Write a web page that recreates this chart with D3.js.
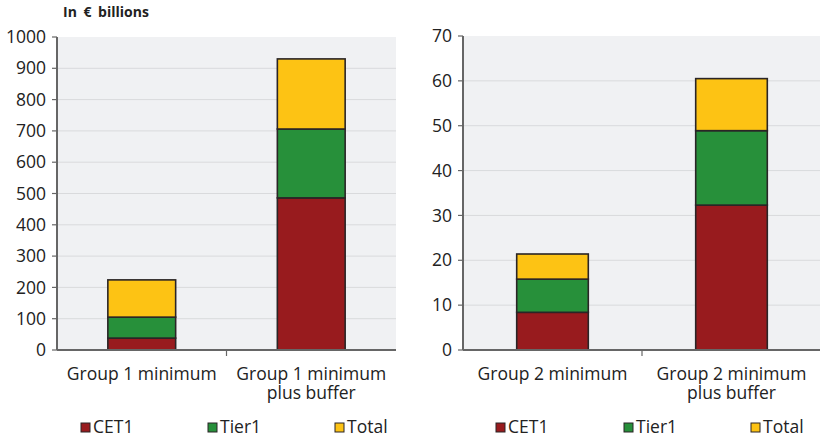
<!DOCTYPE html>
<html>
<head>
<meta charset="utf-8">
<script src="https://cdn.jsdelivr.net/npm/d3@7"></script>
<style>
  body { margin: 0; background: #ffffff; }
  text { font-family: "Open Sans", sans-serif; fill: #222; }
</style>
</head>
<body>
<script>
// data - segment sizes, stacked CET1 -> Tier1 -> Total
const seriesNames = ["CET1", "Tier1", "Total"];
const colors = ["#981b1e", "#27903a", "#fdc314"];

const group1Cats = ["Group 1 minimum", "Group 1 minimum|plus buffer"];
const group1CET1 = [38, 486];
const group1Tier1 = [67, 220];
const group1Total = [119, 224];
const group1Ticks = [0, 100, 200, 300, 400, 500, 600, 700, 800, 900, 1000];

const group2Cats = ["Group 2 minimum", "Group 2 minimum|plus buffer"];
const group2CET1 = [8.4, 32.3];
const group2Tier1 = [7.4, 16.6];
const group2Total = [5.6, 11.6];
const group2Ticks = [0, 10, 20, 30, 40, 50, 60, 70];

const width = 820;
const height = 441;
const svg = d3.select("body").append("svg").attr("width", width).attr("height", height);

svg.append("text").attr("x", 63).attr("y", 17).style("font-size", "14px").style("font-weight", "bold")
  .style("word-spacing", "3px").text("In €  billions");

const drawChart = (opts) => {
  const { left, right, top, bottom, cats, cet1, tier1, total, ticks, legendX } = opts;

  const rows = cats.map((c, i) => ({ cat: c, CET1: cet1[i], Tier1: tier1[i], Total: total[i] }));
  const stacked = d3.stack().keys(seriesNames)(rows);

  const x = d3.scaleBand().domain(cats).range([left, right]).paddingInner(0.6).paddingOuter(0.3);
  const y = d3.scaleLinear().domain([0, d3.max(ticks)]).range([bottom, top]);

  const g = svg.append("g");

  // plot background
  g.append("rect").attr("x", left).attr("y", top).attr("width", right - left).attr("height", bottom - top).attr("fill", "#f0f1f3");

  // gridlines
  g.selectAll(".grid").data(ticks.filter(t => t > 0 && t < d3.max(ticks))).enter().append("line")
    .attr("x1", left).attr("x2", right).attr("y1", d => y(d)).attr("y2", d => y(d))
    .attr("stroke", "#d9dadc").attr("stroke-width", 1);

  // bars
  const layers = g.selectAll(".layer").data(stacked).enter().append("g").attr("fill", (d, i) => colors[i]);
  layers.selectAll("rect").data(d => d).enter().append("rect")
    .attr("x", d => x(d.data.cat))
    .attr("width", x.bandwidth())
    .attr("y", d => y(d[1]))
    .attr("height", d => y(d[0]) - y(d[1]))
    .attr("stroke", "#2a2526").attr("stroke-width", 1.6);

  // y axis
  g.append("line").attr("x1", left).attr("x2", left).attr("y1", top).attr("y2", bottom).attr("stroke", "#666").attr("stroke-width", 2);
  g.selectAll(".ytick").data(ticks).enter().append("line")
    .attr("x1", left - 5).attr("x2", left).attr("y1", d => y(d)).attr("y2", d => y(d)).attr("stroke", "#666").attr("stroke-width", 1.2);
  g.selectAll(".ylabel").data(ticks).enter().append("text")
    .attr("x", left - 11).attr("y", d => y(d)).attr("dy", "0.35em").attr("text-anchor", "end")
    .style("font-size", "17.5px").text(d => d);

  // x axis
  g.append("line").attr("x1", left).attr("x2", right).attr("y1", bottom).attr("y2", bottom).attr("stroke", "#666").attr("stroke-width", 2);
  const mid = (x(cats[0]) + x.bandwidth() + x(cats[1])) / 2;
  g.append("line").attr("x1", mid).attr("x2", mid).attr("y1", bottom).attr("y2", bottom + 6).attr("stroke", "#666").attr("stroke-width", 1.2);

  // category labels, one text per line
  cats.forEach(c => {
    c.split("|").forEach((line, i) => {
      g.append("text").attr("x", x(c) + x.bandwidth() / 2).attr("y", bottom + 30 + i * 18.5)
        .attr("text-anchor", "middle").style("font-size", "17.5px").text(line);
    });
  });

  // legend
  const legend = g.selectAll(".legend").data(seriesNames).enter().append("g")
    .attr("transform", (d, i) => "translate(" + legendX[i] + ", 423)");
  legend.append("rect").attr("width", 9).attr("height", 9).attr("fill", (d, i) => colors[i]).attr("stroke", "#2a2526").attr("stroke-width", 1);
  legend.append("text").attr("x", 12).attr("y", 10).style("font-size", "17.5px").text(d => d);
};

drawChart({ left: 57, right: 396, top: 37, bottom: 350, cats: group1Cats, cet1: group1CET1, tier1: group1Tier1, total: group1Total, ticks: group1Ticks, legendX: [81, 208, 335] });
drawChart({ left: 463, right: 821, top: 36, bottom: 350, cats: group2Cats, cet1: group2CET1, tier1: group2Tier1, total: group2Total, ticks: group2Ticks, legendX: [496, 624, 751] });
</script>
</body>
</html>
